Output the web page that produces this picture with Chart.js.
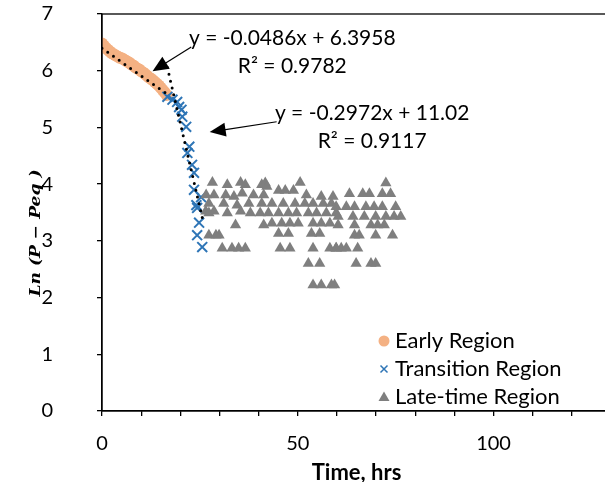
<!DOCTYPE html>
<html>
<head>
<meta charset="utf-8">
<script src="https://cdn.jsdelivr.net/npm/chart.js"></script>
<style>
  html, body { margin: 0; padding: 0; background: #fff; overflow: hidden; }
  canvas { display: block; }
</style>
</head>
<body>
<canvas id="chart" width="620" height="482"></canvas>
<script>
// early region (orange circles)
const earlyX = [0, 0.5, 1, 1.5, 2, 2.5, 3, 3.5, 4, 4.5, 5, 5.5, 6, 6.5, 7, 7.5, 8, 8.5,
  9, 9.5, 10, 10.5, 11, 11.5, 12, 12.5, 13, 13.5, 14, 14.5, 15, 15.5, 16, 16.5];
const earlyY = [6.48, 6.44, 6.4, 6.37, 6.34, 6.31, 6.29, 6.27, 6.25, 6.23, 6.22, 6.2, 6.18, 6.16,
  6.14, 6.11, 6.09, 6.06, 6.04, 6.02, 5.99, 5.97, 5.94, 5.91, 5.88, 5.86, 5.83, 5.8, 5.77, 5.74,
  5.7, 5.66, 5.62, 5.57];

// transition region (blue x)
const transX = [16.7, 18.0, 19.2, 19.7, 20.3, 20.5, 21.5, 22.3, 21.8, 23.0, 23.5, 23.5, 25.3, 24.1, 24.3, 24.8, 24.3, 25.6];
const transY = [5.54, 5.49, 5.45, 5.36, 5.31, 5.19, 5.01, 4.66, 4.55, 4.34, 4.2, 3.9, 3.77, 3.63, 3.58, 3.32, 3.1, 2.89];

// late-time region (grey triangles)
const lateX = [
  28.2, 32.0, 35.4, 36.6, 40.8, 41.7, 28.6, 31.6, 33.7, 35.8, 38.7, 41.3,
  27.3, 31.1, 34.5, 37.5, 40.8, 26.5, 28.6, 32.0, 35.4, 37.9, 40.4,
  34.1, 41.3, 27.3, 29.9, 30.7, 33.2, 34.9, 36.6, 26.6, 27.3, 29.1,
  50.6, 42.1, 45.1, 46.8, 48.9, 52.2, 56.0, 59.0,
  43.4, 46.3, 49.3, 51.8, 53.9, 56.5, 58.6,
  42.5, 45.1, 47.6, 49.7, 52.7, 54.8, 57.3, 59.8,
  43.4, 45.9, 48.0, 50.1, 53.9, 56.0, 58.2,
  45.1, 47.6, 53.5, 55.6, 45.5, 48.0, 53.9, 58.2, 59.8,
  52.7, 55.6, 53.9, 56.0, 58.6,
  72.5, 63.2, 66.6, 68.3, 71.6, 73.7,
  59.8, 62.4, 64.5, 67.4, 69.5, 71.6, 75.0,
  60.3, 64.1, 67.0, 69.9, 72.5, 74.6, 76.3,
  60.3, 64.5, 68.7, 70.4, 72.1, 64.5, 65.7, 69.9, 74.2,
  59.8, 61.1, 62.4, 65.3, 64.9, 68.7, 69.9, 59.4
];
const lateY = [
  4.03, 3.99, 4.03, 3.99, 3.99, 4.02, 3.81, 3.81, 3.78, 3.84, 3.81, 3.81,
  3.66, 3.66, 3.63, 3.66, 3.66, 3.52, 3.52, 3.49, 3.52, 3.49, 3.49,
  3.28, 3.28, 3.1, 3.1, 2.87, 2.87, 2.87, 2.87, 3.81, 3.49, 3.1,
  4.03, 3.96, 3.89, 3.89, 3.89, 3.81, 3.78, 3.78,
  3.66, 3.66, 3.66, 3.66, 3.66, 3.66, 3.66,
  3.49, 3.49, 3.49, 3.49, 3.49, 3.49, 3.49, 3.49,
  3.31, 3.31, 3.31, 3.31, 3.31, 3.31, 3.31,
  3.13, 3.13, 3.13, 3.13, 2.87, 2.87, 2.87, 2.87, 2.87,
  2.6, 2.6, 2.22, 2.22, 2.22,
  4.02, 3.83, 3.83, 3.83, 3.83, 3.83,
  3.6, 3.6, 3.6, 3.6, 3.6, 3.6, 3.6,
  3.43, 3.43, 3.43, 3.43, 3.43, 3.43, 3.43,
  3.28, 3.28, 3.28, 3.28, 3.28, 3.1, 3.1, 3.1, 3.1,
  2.87, 2.87, 2.87, 2.87, 2.6, 2.6, 2.6, 2.22
];

// linear trendlines: slope, intercept, x range
const trend1 = [-0.0486, 6.3958, 0, 16.5];
const trend2 = [-0.2972, 11.02, 16.7, 25.6];
const eqLabels = [["y = -0.0486x + 6.3958", "R\u00b2 = 0.9782"], ["y = -0.2972x + 11.02", "R\u00b2 = 0.9117"]];

const xLabelTicks = [0, 50, 100];
const seriesNames = ["Early Region", "Transition Region", "Late-time Region"];

const ORANGE = "#F4B183";
const BLUE = "#2E75B6";
const GREY = "#7F7F7F";
const FONT = "Lato";

function pts(xs, ys) {
  return xs.map((x, i) => ({ x: x, y: ys[i] }));
}
function trendPts(t) {
  return [{ x: t[2], y: t[0] * t[2] + t[1] }, { x: t[3], y: t[0] * t[3] + t[1] }];
}

function arrow(ctx, x1, y1, x2, y2) {
  const a = Math.atan2(y2 - y1, x2 - x1);
  const len = 16, w = 7;
  ctx.beginPath();
  ctx.moveTo(x1, y1);
  ctx.lineTo(x2 - Math.cos(a) * len * 0.8, y2 - Math.sin(a) * len * 0.8);
  ctx.stroke();
  ctx.beginPath();
  ctx.moveTo(x2, y2);
  ctx.lineTo(x2 - Math.cos(a) * len - Math.sin(a) * w, y2 - Math.sin(a) * len + Math.cos(a) * w);
  ctx.lineTo(x2 - Math.cos(a) * len + Math.sin(a) * w, y2 - Math.sin(a) * len - Math.cos(a) * w);
  ctx.closePath();
  ctx.fill();
}

const overlay = {
  id: "overlay",
  afterDraw(chart) {
    const ctx = chart.ctx;
    const a = chart.chartArea;
    const sx = chart.scales.x, sy = chart.scales.y;
    const px = (v) => sx.getPixelForValue(v);
    const py = (v) => sy.getPixelForValue(v);
    ctx.save();
    // plot border
    ctx.strokeStyle = "#000";
    ctx.lineWidth = 1.3;
    ctx.strokeRect(a.left, a.top, a.right - a.left, a.bottom - a.top);

    // axis titles
    ctx.fillStyle = "#000";
    ctx.font = "bold 22px " + FONT;
    ctx.textAlign = "center";
    ctx.textBaseline = "alphabetic";
    ctx.fillText("Time, hrs", (a.left + a.right) / 2, 480);

    ctx.save();
    ctx.translate(40, 233);
    ctx.rotate(-Math.PI / 2);
    ctx.font = "bold italic 14px 'DejaVu Serif'";
    const yTitle = "Ln (P \u2212 Peq )";
    const w0 = ctx.measureText(yTitle).width;
    ctx.scale(127 / w0, 1);
    ctx.fillText(yTitle, 0, 0);
    ctx.restore();

    // trendline labels
    ctx.font = "21px " + FONT;
    ctx.textAlign = "center";
    ctx.fillText(eqLabels[0][0], px(48.6), py(6.455));
    ctx.fillText(eqLabels[0][1], px(48.6), py(5.96));
    ctx.fillText(eqLabels[1][0], px(69.0), py(5.13));
    ctx.fillText(eqLabels[1][1], px(69.0), py(4.64));

    ctx.lineWidth = 1.2;
    arrow(ctx, px(22.8), py(6.42), px(12.9), py(5.99));
    arrow(ctx, px(44.6), py(5.1), px(27.5), py(4.92));

    // legend
    const lx = 384, ly = [341, 369, 397];
    ctx.textAlign = "left";
    ctx.textBaseline = "middle";
    ctx.font = "22px " + FONT;
    seriesNames.forEach((n, i) => {
      ctx.fillStyle = "#000";
      ctx.fillText(n, lx + 11, ly[i]);
    });
    ctx.fillStyle = ORANGE;
    ctx.beginPath();
    ctx.arc(lx, ly[0], 5.5, 0, Math.PI * 2);
    ctx.fill();
    ctx.strokeStyle = BLUE;
    ctx.lineWidth = 1.5;
    ctx.beginPath();
    ctx.moveTo(lx - 3.5, ly[1] - 3.5); ctx.lineTo(lx + 3.5, ly[1] + 3.5);
    ctx.moveTo(lx + 3.5, ly[1] - 3.5); ctx.lineTo(lx - 3.5, ly[1] + 3.5);
    ctx.stroke();
    ctx.fillStyle = GREY;
    ctx.beginPath();
    ctx.moveTo(lx, ly[2] - 5.5); ctx.lineTo(lx + 5.5, ly[2] + 4); ctx.lineTo(lx - 5.5, ly[2] + 4);
    ctx.closePath();
    ctx.fill();
    ctx.restore();
  }
};

const ctx = document.getElementById("chart").getContext("2d");
new Chart(ctx, {
  type: "scatter",
  data: {
    datasets: [
      {
        label: "Trend 1", data: trendPts(trend1), showLine: true, pointRadius: 0,
        borderColor: "#000", borderWidth: 3, borderDash: [0, 7], borderCapStyle: "round", order: 0
      },
      {
        label: "Trend 2", data: trendPts(trend2), showLine: true, pointRadius: 0,
        borderColor: "#000", borderWidth: 3, borderDash: [0, 7], borderCapStyle: "round", order: 0
      },
      {
        label: seriesNames[2], data: pts(lateX, lateY), pointStyle: "triangle",
        pointRadius: 6.5, backgroundColor: GREY, borderColor: GREY, borderWidth: 0, order: 1
      },
      {
        label: seriesNames[1], data: pts(transX, transY), pointStyle: "crossRot",
        pointRadius: 7, borderColor: BLUE, borderWidth: 2, order: 2
      },
      {
        label: seriesNames[0], data: pts(earlyX, earlyY), pointStyle: "circle",
        pointRadius: 6, backgroundColor: ORANGE, borderColor: ORANGE, borderWidth: 0, order: 3
      }
    ]
  },
  options: {
    responsive: false,
    animation: false,
    layout: { padding: { top: 14, right: 5, left: 0, bottom: 0 } },
    plugins: { legend: { display: false }, tooltip: { enabled: false } },
    scales: {
      x: {
        type: "linear", min: 0, max: 130,
        ticks: {
          stepSize: 10, autoSkip: false, maxRotation: 0, color: "#000", padding: 16,
          font: { family: FONT, size: 20 },
          callback: (v) => (xLabelTicks.includes(v) ? String(v) : "")
        },
        grid: { drawOnChartArea: false, tickLength: 5, color: "#000", lineWidth: 1.3 },
        border: { color: "#000", width: 1.3 },
        afterFit: (s) => { s.height = 71; s.paddingLeft = 0; s.paddingRight = 0; }
      },
      y: {
        min: 0, max: 7,
        ticks: { stepSize: 1, color: "#000", padding: 44, font: { family: FONT, size: 20 } },
        grid: { drawOnChartArea: false, tickLength: 5, color: "#000", lineWidth: 1.3 },
        border: { color: "#000", width: 1.3 },
        afterFit: (s) => { s.width = 102; s.paddingTop = 0; s.paddingBottom = 0; }
      }
    }
  },
  plugins: [overlay]
});
</script>
</body>
</html>
